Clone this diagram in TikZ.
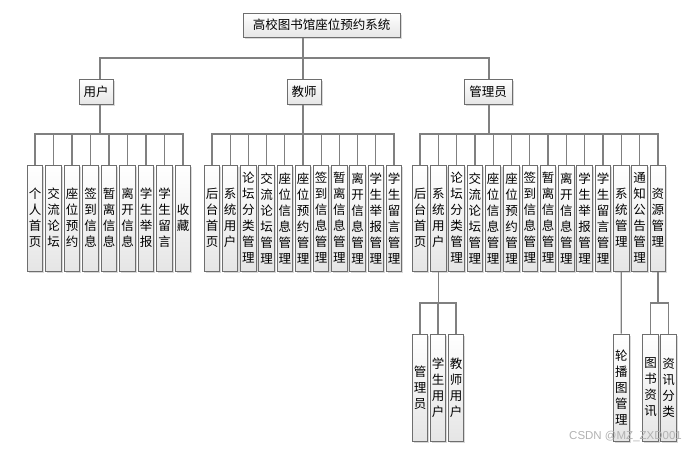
\documentclass[tikz,border=0pt]{standalone}
\usepackage{fontspec}
\setmainfont{Noto Sans CJK SC}
\newfontfamily\wmfont{Liberation Sans}
\usetikzlibrary{shadows}
\definecolor{boxborder}{HTML}{6E6E6E}
\definecolor{linecol}{HTML}{808080}
\tikzset{
  box/.style={draw=boxborder, line width=1pt, top color=white, bottom color=black!10,
    drop shadow={shadow xshift=1.6pt, shadow yshift=-1.6pt, fill=black!25, opacity=0.6},
    inner sep=0pt, align=center, font=\fontsize{12.5}{16}\selectfont},
  leaf/.style={box, minimum width=15.5pt, minimum height=106pt},
  subleaf/.style={box, minimum width=15.5pt, minimum height=107pt},
  conn/.style={draw=linecol, line width=1.3pt}
}
\begin{document}
\begin{tikzpicture}[x=1pt,y=-1pt]
\useasboundingbox (0,0) rectangle (693,450);
% root and first level
\node[box, minimum width=157pt, minimum height=24pt] (root) at (321.5,25) {高校图书馆座位预约系统};
\node[box, minimum width=34pt, minimum height=25pt] (usr) at (96,91.5) {用户};
\node[box, minimum width=34pt, minimum height=25pt] (tch) at (304,91.5) {教师};
\node[box, minimum width=48pt, minimum height=25pt] (mgr) at (488,91.5) {管理员};
\coordinate (jr) at (303,58);
\coordinate (ju) at (100,58);
\coordinate (jm) at (489,58);
\coordinate (bu) at (100,134);
\coordinate (bt) at (303,134);
\coordinate (bm) at (489,134);
% user children
\foreach \t [count=\i] in {{个\\人\\首\\页},{交\\流\\论\\坛},{座\\位\\预\\约},{签\\到\\信\\息},{暂\\离\\信\\息},{离\\开\\信\\息},{学\\生\\举\\报},{学\\生\\留\\言},{收\\藏}}
  \node[leaf] (u\i) at ({35+18.5*(\i-1)},218) {\t};
% teacher children
\foreach \t [count=\i] in {{后\\台\\首\\页},{系\\统\\用\\户},{论\\坛\\分\\类\\管\\理},{交\\流\\论\\坛\\管\\理},{座\\位\\信\\息\\管\\理},{座\\位\\预\\约\\管\\理},{签\\到\\信\\息\\管\\理},{暂\\离\\信\\息\\管\\理},{离\\开\\信\\息\\管\\理},{学\\生\\举\\报\\管\\理},{学\\生\\留\\言\\管\\理}}
  \node[leaf] (t\i) at ({212+18.2*(\i-1)},218) {\t};
% admin children
\foreach \t [count=\i] in {{后\\台\\首\\页},{系\\统\\用\\户},{论\\坛\\分\\类\\管\\理},{交\\流\\论\\坛\\管\\理},{座\\位\\信\\息\\管\\理},{座\\位\\预\\约\\管\\理},{签\\到\\信\\息\\管\\理},{暂\\离\\信\\息\\管\\理},{离\\开\\信\\息\\管\\理},{学\\生\\举\\报\\管\\理},{学\\生\\留\\言\\管\\理},{系\\统\\管\\理},{通\\知\\公\\告\\管\\理},{资\\源\\管\\理}}
  \node[leaf] (m\i) at ({420+18.3*(\i-1)},218) {\t};
% third level
\node[subleaf] (s1) at (420,387.5) {管\\理\\员};
\node[subleaf] (s2) at (438,387.5) {学\\生\\用\\户};
\node[subleaf] (s3) at (456,387.5) {教\\师\\用\\户};
\node[subleaf] (r1) at (621.3,387.5) {轮\\播\\图\\管\\理};
\node[subleaf] (z1) at (650.5,387.5) {图\\书\\资\\讯};
\node[subleaf] (z2) at (668.5,387.5) {资\\讯\\分\\类};
% connectors level 1
\draw[conn] (root.south -| jr) -- (jr);
\draw[conn] (usr.north -| ju) -- (ju) -- (jm) -- (mgr.north -| jm);
\draw[conn] (jr) -- (tch.north -| jr);
% connectors level 2
\draw[conn] (usr.south -| bu) -- (bu);
\draw[conn] (u1.north) -- (u1.north |- bu) -- (u9.north |- bu) -- (u9.north);
\foreach \i in {2,...,8} \draw[conn] (u\i.north) -- (u\i.north |- bu);
\draw[conn] (tch.south -| bt) -- (bt);
\draw[conn] (t1.north) -- (t1.north |- bt) -- (t11.north |- bt) -- (t11.north);
\foreach \i in {2,...,10} \draw[conn] (t\i.north) -- (t\i.north |- bt);
\draw[conn] (mgr.south -| bm) -- (bm);
\draw[conn] (m1.north) -- (m1.north |- bm) -- (m14.north |- bm) -- (m14.north);
\foreach \i in {2,...,13} \draw[conn] (m\i.north) -- (m\i.north |- bm);
% connectors level 3
\coordinate (bs) at (438,303);
\draw[conn] (m2.south) -- (m2.south |- bs);
\draw[conn] (s1.north) -- (s1.north |- bs) -- (s3.north |- bs) -- (s3.north);
\draw[conn] (s2.north) -- (s2.north |- bs);
\draw[conn] (m12.south) -- (r1.north);
\coordinate (bz) at (658,303);
\draw[conn] (m14.south) -- (m14.south |- bz);
\draw[conn] (z1.north) -- (z1.north |- bz) -- (z2.north |- bz) -- (z2.north);
% watermark
\node[text=black!30, font=\wmfont\fontsize{11.5}{12}\selectfont, anchor=west, inner sep=0pt] (wm) at (569,436.5) {CSDN @MZ\_ZXD001};
\end{tikzpicture}
\end{document}
